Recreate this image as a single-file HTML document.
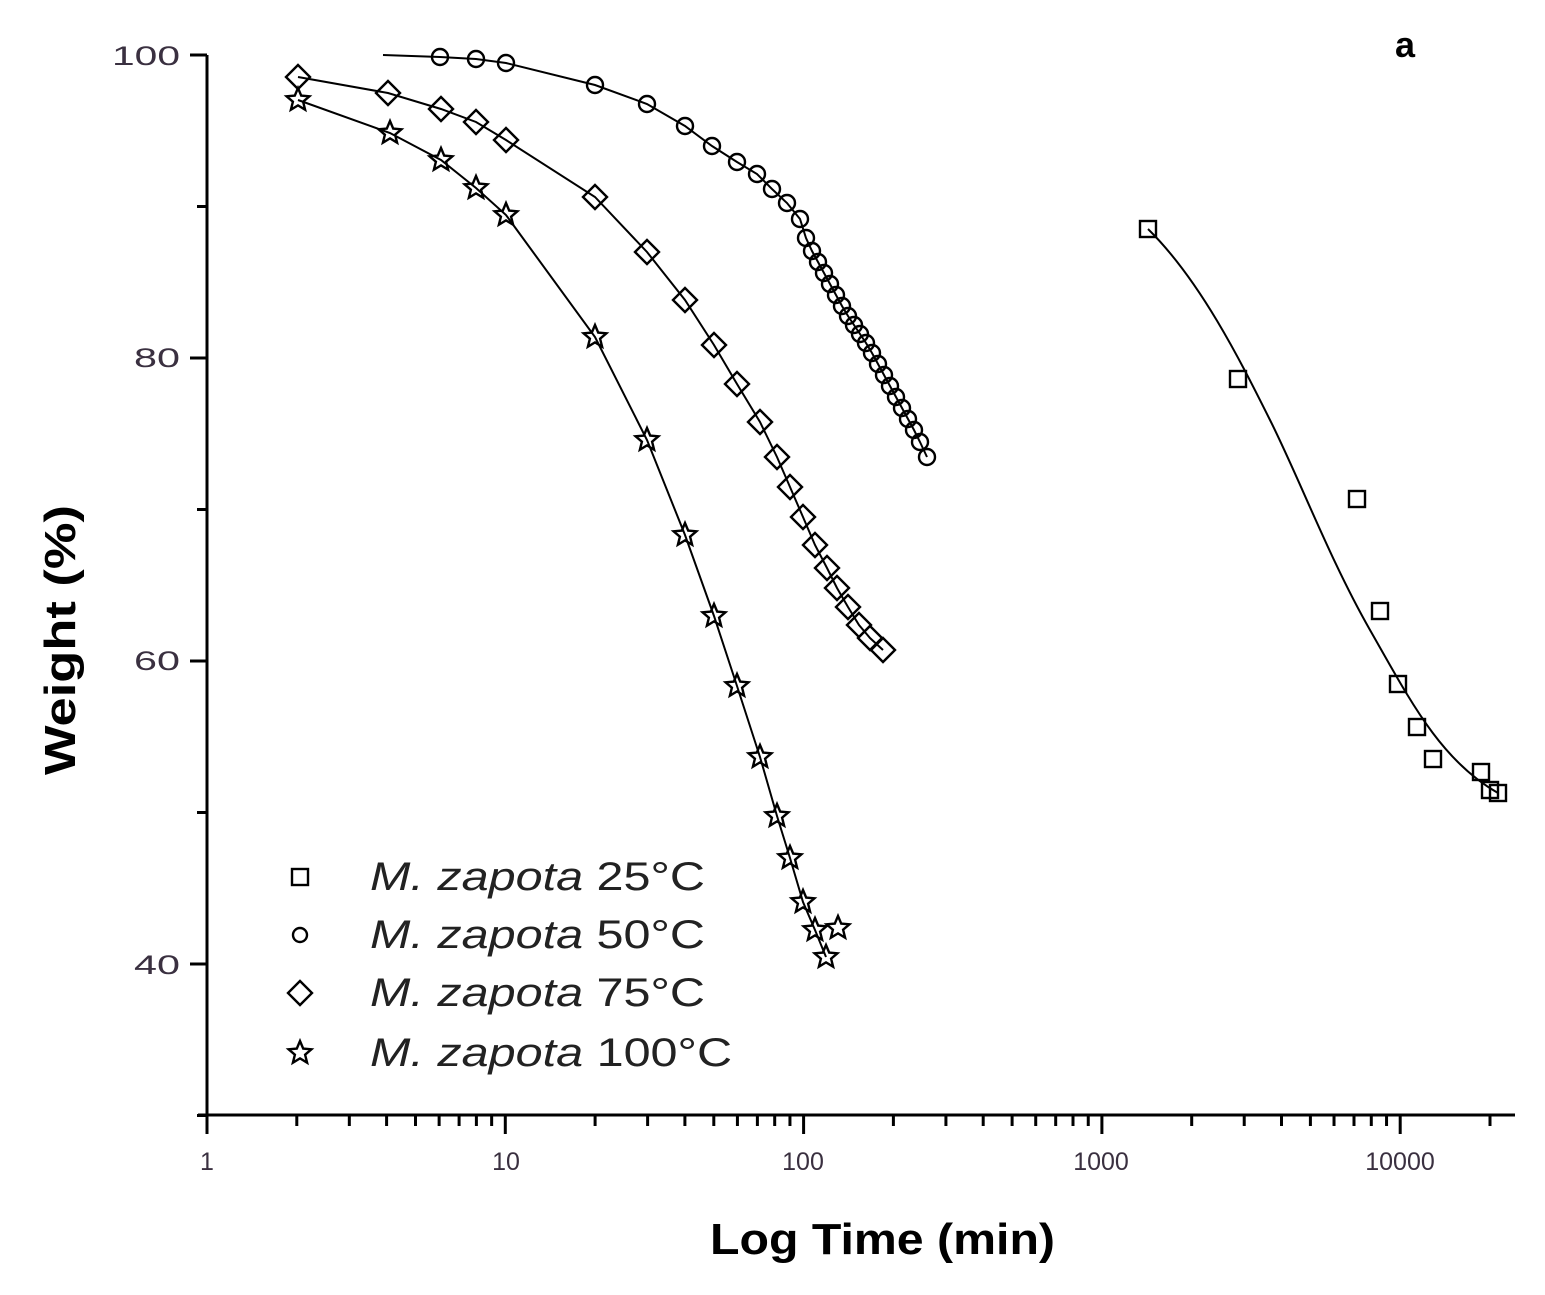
<!DOCTYPE html>
<html><head><style>body{margin:0;background:#fff}svg{display:block}</style></head>
<body>
<svg id="s" width="1545" height="1295" xmlns="http://www.w3.org/2000/svg" font-family="Liberation Sans, sans-serif">
<g stroke="#000" stroke-width="3" fill="none">
<line x1="207" y1="55" x2="207" y2="1116"/>
<line x1="198" y1="1115" x2="1515" y2="1115"/>
</g>
<g id="ticks" stroke="#000" stroke-width="3"></g>
<g font-size="27" fill="#3a3040" text-anchor="end">
<text x="180" y="65" textLength="68" lengthAdjust="spacingAndGlyphs">100</text><text x="180" y="367" textLength="46" lengthAdjust="spacingAndGlyphs">80</text><text x="180" y="670" textLength="46" lengthAdjust="spacingAndGlyphs">60</text><text x="180" y="974" textLength="46" lengthAdjust="spacingAndGlyphs">40</text>
</g>
<g font-size="25" fill="#3a3040" text-anchor="middle">
<text x="207" y="1170">1</text><text x="506" y="1170">10</text><text x="803" y="1170">100</text><text x="1101" y="1170">1000</text><text x="1400" y="1170">10000</text>
</g>
<text x="710" y="1254" font-size="44" font-weight="bold" textLength="345" lengthAdjust="spacingAndGlyphs">Log Time (min)</text>
<text transform="translate(75,775) rotate(-90)" font-size="44" font-weight="bold" textLength="270" lengthAdjust="spacingAndGlyphs">Weight  (%)</text>
<text x="1405" y="57" font-size="36" font-weight="bold" text-anchor="middle">a</text>
<g id="curves" stroke="#000" stroke-width="2" fill="none"></g>
<g id="marks" stroke="#000" stroke-width="2.4" fill="none"></g>
<g font-size="40" fill="#222">
<text x="370" y="890" textLength="335" lengthAdjust="spacingAndGlyphs"><tspan font-style="italic">M. zapota</tspan> 25°C</text>
<text x="370" y="948" textLength="335" lengthAdjust="spacingAndGlyphs"><tspan font-style="italic">M. zapota</tspan> 50°C</text>
<text x="370" y="1006" textLength="335" lengthAdjust="spacingAndGlyphs"><tspan font-style="italic">M. zapota</tspan> 75°C</text>
<text x="370" y="1066" textLength="362" lengthAdjust="spacingAndGlyphs"><tspan font-style="italic">M. zapota</tspan> 100°C</text>
</g>
</svg>
<script>
var NS="http://www.w3.org/2000/svg";
function el(p,t,a){var e=document.createElementNS(NS,t);for(var k in a)e.setAttribute(k,a[k]);document.getElementById(p).appendChild(e);return e;}
for(var w=30;w<=100;w+=10){var y=55+(100-w)*15.15;var maj=(w%20==0);el("ticks","line",{x1:maj?190:197,x2:207,y1:y,y2:y});}
for(var d=0;d<5;d++)for(var m=1;m<10;m++){var x=207+298.3*(d+Math.log10(m));if(x>1515)break;el("ticks","line",{x1:x,x2:x,y1:1115,y2:m==1?1134:1126});}
var sq=[[1148,229],[1238,379],[1357,499],[1380,611],[1398,684],[1417,727],[1433,759],[1481,772],[1490,790],[1498,793]];
var ci=[[440,57],[476,59],[506,63],[595,85],[647,104],[685,126],[712,146],[737,162],[757,174],[772,189],[787,203],[800,219],[806,238],[812,251],[818,262],[824,273],[830,284],[836,295],[842,306],[848,316],[854,325],[860,334],[866,343],[872,353],[878,364],[884,375],[890,386],[896,397],[902,408],[908,419],[914,430],[920,442],[927,457]];
var di=[[298,77],[388,93],[441,109],[476,122],[506,140],[595,197],[647,252],[685,300],[714,345],[737,384],[760,422],[777,457],[790,487],[803,517],[815,545],[827,568],[837,588],[848,607],[859,625],[870,638],[883,650]];
var st=[[298,100],[390,133],[441,160],[476,188],[506,215],[595,337],[647,440],[685,535],[714,616],[737,686],[760,757],[777,816],[790,858],[803,902],[815,930],[826,957],[838,928]];
function pl(pts){el("curves","polyline",{points:pts.map(function(p){return p.join(",")}).join(" ")});}
pl([[383,55]].concat(ci));
pl(di);
pl(st.slice(0,16));
el("curves","path",{d:"M1148,229 C1200,280 1240,360 1270,420 C1300,480 1330,560 1370,630 C1410,700 1440,760 1498,793"});
function sqm(x,y,r){el("marks","rect",{x:x-r,y:y-r,width:2*r,height:2*r});}
function cim(x,y,r){el("marks","circle",{cx:x,cy:y,r:r});}
function dim(x,y,r){el("marks","polygon",{points:[x,y-r,x+r,y,x,y+r,x-r,y].join(" ")});}
function stm(x,y,r){var p=[];for(var i=0;i<10;i++){var a=-Math.PI/2+i*Math.PI/5,rr=i%2?r*0.45:r;p.push((x+rr*Math.cos(a)).toFixed(1)+","+(y+rr*Math.sin(a)).toFixed(1));}el("marks","polygon",{points:p.join(" ")});}
sq.forEach(function(p){sqm(p[0],p[1],8)});
ci.forEach(function(p){cim(p[0],p[1],8)});
di.forEach(function(p){dim(p[0],p[1],12)});
st.forEach(function(p){stm(p[0],p[1],12)});
sqm(300,877,8);cim(300,935,7);dim(300,993,12);stm(300,1053,12);
</script>
</body></html>
